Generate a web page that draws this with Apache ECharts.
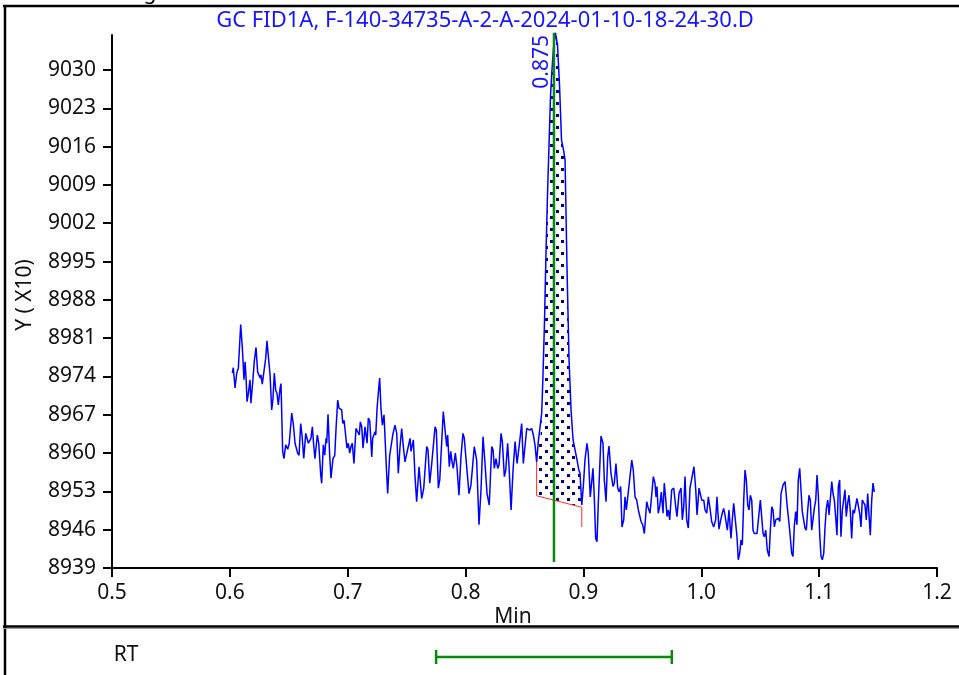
<!DOCTYPE html>
<html>
<head>
<meta charset="utf-8">
<title>GC FID1A</title>
<script src="https://cdn.jsdelivr.net/npm/echarts@6/dist/echarts.min.js"></script>
<style>
  html, body { margin: 0; padding: 0; background: #fff; }
  #chart { width: 959px; height: 675px; }
</style>
</head>
<body>
<div id="chart"></div>
<script>
// FID signal, [retention time (min), response (x10)]
const fidTrace = [
  [0.6021,8974.6],[0.6029,8975.6],[0.6044,8971.9],[0.6058,8974.6],[0.6072,8975.5],[0.6092,8983.5],[0.6106,8979.2],[0.6120,8973.4],[0.6129,8976.7],[0.6137,8974.0],
  [0.6146,8969.4],[0.6157,8970.9],[0.6171,8973.4],[0.6179,8969.1],[0.6194,8973.0],[0.6207,8976.7],[0.6222,8979.3],[0.6236,8974.8],[0.6250,8974.6],[0.6258,8973.7],
  [0.6264,8974.3],[0.6275,8972.6],[0.6290,8972.7],[0.6304,8977.3],[0.6315,8980.5],[0.6326,8980.8],[0.6341,8974.3],[0.6355,8967.9],[0.6366,8970.0],[0.6377,8974.6],
  [0.6389,8971.5],[0.6400,8970.9],[0.6411,8968.8],[0.6426,8971.8],[0.6434,8972.7],[0.6448,8960.3],[0.6459,8959.0],[0.6474,8961.5],[0.6491,8960.7],[0.6504,8961.8],
  [0.6525,8967.3],[0.6538,8965.4],[0.6553,8961.8],[0.6564,8961.5],[0.6575,8960.0],[0.6587,8959.6],[0.6601,8965.4],[0.6612,8963.3],[0.6627,8959.0],[0.6644,8963.6],
  [0.6655,8963.3],[0.6666,8961.8],[0.6680,8961.5],[0.6688,8962.7],[0.6700,8964.8],[0.6711,8961.5],[0.6722,8959.0],[0.6742,8963.3],[0.6754,8961.8],[0.6771,8956.0],
  [0.6779,8954.5],[0.6793,8961.5],[0.6805,8959.6],[0.6816,8962.7],[0.6822,8961.8],[0.6833,8967.1],[0.6847,8959.6],[0.6858,8955.4],[0.6875,8959.0],[0.6890,8959.6],
  [0.6901,8964.5],[0.6915,8969.7],[0.6926,8968.2],[0.6937,8968.5],[0.6949,8967.9],[0.6958,8965.4],[0.6969,8966.0],[0.6980,8965.7],[0.6994,8960.9],[0.7005,8961.8],
  [0.7017,8960.0],[0.7028,8961.2],[0.7039,8961.8],[0.7053,8958.1],[0.7070,8964.5],[0.7085,8964.2],[0.7098,8963.3],[0.7107,8965.7],[0.7119,8964.8],[0.7130,8960.9],
  [0.7147,8964.8],[0.7155,8965.1],[0.7164,8961.8],[0.7175,8966.4],[0.7187,8965.9],[0.7204,8959.3],[0.7212,8962.7],[0.7223,8963.0],[0.7232,8963.9],[0.7238,8963.3],
  [0.7249,8968.2],[0.7263,8971.8],[0.7271,8973.7],[0.7282,8968.2],[0.7294,8965.1],[0.7308,8967.0],[0.7316,8967.3],[0.7331,8956.0],[0.7339,8952.6],[0.7356,8959.6],
  [0.7367,8959.6],[0.7382,8963.3],[0.7401,8965.1],[0.7416,8963.6],[0.7429,8956.3],[0.7444,8961.2],[0.7458,8964.5],[0.7472,8961.2],[0.7486,8958.4],[0.7497,8958.1],
  [0.7514,8961.2],[0.7529,8962.7],[0.7537,8960.3],[0.7557,8962.4],[0.7571,8955.7],[0.7585,8951.1],[0.7605,8957.5],[0.7616,8957.2],[0.7628,8951.7],[0.7645,8953.6],
  [0.7670,8961.2],[0.7681,8960.6],[0.7696,8954.5],[0.7713,8958.1],[0.7741,8964.8],[0.7752,8964.2],[0.7769,8953.6],[0.7781,8955.1],[0.7811,8967.6],[0.7826,8964.2],
  [0.7840,8961.2],[0.7848,8963.3],[0.7862,8957.5],[0.7874,8960.3],[0.7885,8958.4],[0.7896,8957.2],[0.7913,8960.0],[0.7927,8957.5],[0.7944,8952.3],[0.7961,8959.3],
  [0.7978,8963.6],[0.7989,8962.7],[0.8006,8958.4],[0.8029,8952.6],[0.8046,8954.2],[0.8057,8953.9],[0.8074,8961.2],[0.8094,8958.7],[0.8114,8946.9],[0.8131,8953.3],
  [0.8148,8963.0],[0.8165,8958.1],[0.8182,8952.6],[0.8201,8950.5],[0.8222,8961.2],[0.8233,8960.6],[0.8244,8957.2],[0.8258,8959.0],[0.8273,8957.2],[0.8284,8957.8],
  [0.8301,8963.6],[0.8312,8962.1],[0.8329,8955.7],[0.8341,8956.9],[0.8357,8961.8],[0.8369,8957.5],[0.8386,8949.6],[0.8403,8956.9],[0.8420,8962.1],[0.8437,8958.1],
  [0.8448,8957.8],[0.8462,8962.7],[0.8476,8965.4],[0.8490,8958.1],[0.8504,8957.8],[0.8519,8964.5],[0.8544,8964.2],[0.8561,8964.5],[0.8575,8963.3],[0.8589,8961.5],
  [0.8603,8958.4],[0.8617,8962.1],[0.8633,8962.1],[0.8646,8967.3],[0.8657,8974.3],[0.8670,8984.3],[0.8682,8996.2],[0.8695,9007.2],[0.8708,9016.3],[0.8721,9025.4],
  [0.8733,9030.0],[0.8746,9034.0],[0.8763,9036.8],[0.8780,9034.6],[0.8797,9027.3],[0.8814,9017.2],[0.8831,9015.4],[0.8844,9013.6],[0.8861,8993.5],[0.8878,8977.0],
  [0.8895,8967.9],[0.8912,8962.4],[0.8929,8960.6],[0.8946,8958.7],[0.8961,8956.9],[0.8971,8956.3],[0.8986,8950.5],[0.8999,8953.9],[0.9013,8958.7],[0.9030,8961.8],
  [0.9041,8960.0],[0.9058,8952.0],[0.9081,8957.2],[0.9092,8952.0],[0.9104,8944.4],[0.9115,8943.8],[0.9126,8950.8],[0.9149,8963.1],[0.9166,8961.8],[0.9177,8955.1],
  [0.9192,8951.1],[0.9206,8959.3],[0.9217,8961.3],[0.9234,8956.3],[0.9251,8953.9],[0.9262,8954.5],[0.9276,8958.1],[0.9291,8953.6],[0.9304,8952.9],[0.9316,8953.9],
  [0.9327,8946.5],[0.9342,8947.8],[0.9353,8952.0],[0.9364,8949.6],[0.9376,8949.3],[0.9389,8954.5],[0.9410,8958.7],[0.9423,8956.9],[0.9438,8952.0],[0.9452,8951.4],
  [0.9466,8949.6],[0.9489,8947.5],[0.9503,8946.9],[0.9517,8945.3],[0.9537,8951.1],[0.9551,8949.9],[0.9565,8949.0],[0.9579,8952.3],[0.9593,8955.7],[0.9607,8954.5],
  [0.9616,8952.0],[0.9624,8953.9],[0.9635,8949.0],[0.9647,8950.2],[0.9661,8952.9],[0.9675,8949.0],[0.9686,8954.5],[0.9698,8951.7],[0.9709,8948.4],[0.9720,8949.6],
  [0.9732,8947.8],[0.9749,8953.3],[0.9766,8953.6],[0.9783,8950.2],[0.9794,8948.4],[0.9811,8952.6],[0.9828,8953.6],[0.9839,8947.8],[0.9851,8950.2],[0.9862,8955.7],
  [0.9876,8947.8],[0.9890,8946.3],[0.9904,8953.6],[0.9919,8953.9],[0.9938,8957.5],[0.9953,8953.3],[0.9964,8948.7],[0.9981,8953.6],[0.9992,8953.3],[1.0004,8951.4],
  [1.0021,8951.4],[1.0032,8949.6],[1.0046,8949.0],[1.0060,8952.0],[1.0074,8949.9],[1.0088,8947.5],[1.0105,8946.5],[1.0122,8947.8],[1.0133,8952.0],[1.0150,8946.1],
  [1.0165,8947.8],[1.0178,8949.0],[1.0190,8949.9],[1.0201,8948.7],[1.0212,8949.0],[1.0221,8945.9],[1.0235,8949.6],[1.0246,8949.9],[1.0252,8944.4],[1.0263,8947.8],
  [1.0275,8950.8],[1.0286,8950.5],[1.0303,8944.7],[1.0314,8940.5],[1.0326,8941.7],[1.0337,8944.1],[1.0348,8943.2],[1.0360,8951.4],[1.0371,8956.9],[1.0382,8955.1],
  [1.0394,8950.5],[1.0405,8949.6],[1.0416,8952.3],[1.0428,8951.4],[1.0439,8945.9],[1.0450,8945.3],[1.0462,8945.6],[1.0473,8945.3],[1.0484,8945.6],[1.0501,8951.4],
  [1.0513,8951.4],[1.0524,8945.3],[1.0535,8944.7],[1.0547,8945.9],[1.0560,8942.3],[1.0575,8941.1],[1.0586,8945.9],[1.0598,8950.2],[1.0609,8949.6],[1.0620,8946.5],
  [1.0632,8947.8],[1.0643,8947.8],[1.0654,8948.1],[1.0666,8947.5],[1.0677,8952.6],[1.0694,8954.2],[1.0711,8954.8],[1.0728,8950.5],[1.0739,8950.5],[1.0750,8945.9],
  [1.0767,8941.7],[1.0778,8941.1],[1.0789,8946.5],[1.0801,8949.3],[1.0812,8946.9],[1.0823,8955.1],[1.0835,8957.2],[1.0846,8953.3],[1.0857,8949.3],[1.0869,8949.0],
  [1.0880,8946.3],[1.0891,8945.9],[1.0903,8949.6],[1.0914,8952.3],[1.0925,8951.4],[1.0937,8945.9],[1.0948,8945.9],[1.0959,8949.9],[1.0971,8951.4],[1.0982,8956.0],
  [1.0993,8952.3],[1.1005,8945.0],[1.1016,8941.1],[1.1027,8940.5],[1.1039,8941.7],[1.1050,8946.5],[1.1061,8949.9],[1.1073,8951.4],[1.1084,8948.7],[1.1095,8949.0],
  [1.1107,8954.8],[1.1118,8952.6],[1.1129,8951.4],[1.1140,8948.4],[1.1151,8945.0],[1.1163,8953.9],[1.1174,8955.1],[1.1185,8944.7],[1.1197,8949.6],[1.1208,8949.9],
  [1.1219,8953.3],[1.1230,8948.4],[1.1242,8950.8],[1.1253,8952.3],[1.1264,8949.6],[1.1276,8944.4],[1.1287,8949.6],[1.1298,8949.0],[1.1310,8949.0],[1.1321,8951.7],
  [1.1332,8951.7],[1.1344,8949.0],[1.1355,8946.5],[1.1366,8951.4],[1.1378,8951.7],[1.1389,8950.5],[1.1400,8947.8],[1.1412,8952.6],[1.1423,8948.7],[1.1434,8945.0],
  [1.1446,8951.4],[1.1457,8954.5],[1.1468,8952.9]
];

// integrated peak
const retentionTime = 0.875;
const peakBaseline = [[0.8603, 8952.2], [0.8986, 8950.1]];
const baselineTailEnd = 8946.5;
const rtMarkerSpan = [8940.1, 9036.8];
// expected retention window shown under the plot
const rtWindow = [0.775, 0.975];

// axis ticks
const xTicks = [0.5, 0.6, 0.7, 0.8, 0.9, 1.0, 1.1, 1.2];
const yTicks = [8939, 8946, 8953, 8960, 8967, 8974, 8981, 8988, 8995, 9002, 9009, 9016, 9023, 9030];

const FONT = '"Noto Sans", "Open Sans", sans-serif';
const GREEN = '#0a8a0a';

// dotted fill for the integrated area
function makeDotPattern() {
  const c = document.createElement('canvas');
  c.width = 11; c.height = 12;
  const ctx = c.getContext('2d');
  ctx.fillStyle = '#000080';
  ctx.fillRect(0, 0, 3, 3);
  ctx.fillRect(6, 6, 3, 3);
  return c;
}
const dotPattern = { image: makeDotPattern(), repeat: 'repeat' };

const chart = echarts.init(document.getElementById('chart'), null, { renderer: 'canvas' });

const option = {
  animation: false,
  backgroundColor: '#fff',
  grid: [
    { left: 112, right: 22, top: 35, bottom: 107 },
    { left: 112, right: 22, top: 640, height: 34 }
  ],
  xAxis: [
    {
      gridIndex: 0, type: 'value', min: 0.5, max: 1.2, interval: 0.1,
      axisLine: { show: true, onZero: false, lineStyle: { color: '#000', width: 2 } },
      axisTick: { show: true, length: 9, customValues: xTicks, lineStyle: { color: '#000', width: 2 } },
      axisLabel: {
        customValues: xTicks, margin: 15, fontSize: 21, color: '#111', fontFamily: FONT,
        formatter: v => v.toFixed(1)
      },
      splitLine: { show: false }
    },
    { gridIndex: 1, type: 'value', min: 0.5, max: 1.2, show: false }
  ],
  yAxis: [
    {
      gridIndex: 0, type: 'value', min: 8939, max: 9036.4, interval: 7,
      axisLine: { show: true, onZero: false, lineStyle: { color: '#000', width: 2 } },
      axisTick: { show: true, length: 9, customValues: yTicks, lineStyle: { color: '#000', width: 2 } },
      axisLabel: {
        customValues: yTicks, margin: 16, fontSize: 21, color: '#111', fontFamily: FONT,
        formatter: v => String(Math.round(v))
      },
      splitLine: { show: false }
    },
    { gridIndex: 1, type: 'value', min: 0, max: 1, show: false }
  ],
  graphic: [
    { type: 'line', shape: { x1: 3, y1: 6, x2: 959, y2: 6 }, style: { stroke: '#000', lineWidth: 2.5 } },
    { type: 'line', shape: { x1: 5, y1: 5, x2: 5, y2: 675 }, style: { stroke: '#000', lineWidth: 2.5 } },
    { type: 'line', shape: { x1: 3, y1: 626.5, x2: 959, y2: 626.5 }, style: { stroke: '#000', lineWidth: 2.5 } },
    { type: 'line', shape: { x1: 3, y1: 628.5, x2: 959, y2: 628.5 }, style: { stroke: '#9a9a9a', lineWidth: 1 } },
    { type: 'text', x: 150, y: 4, style: { text: 'g', fill: '#000', font: '21px ' + FONT, align: 'center', verticalAlign: 'bottom' } },
    {
      type: 'text', x: 485, y: 21,
      style: { text: 'GC FID1A, F-140-34735-A-2-A-2024-01-10-18-24-30.D', fill: '#1515ff', font: '22px ' + FONT, align: 'center', verticalAlign: 'middle' }
    },
    {
      type: 'text', x: 25, y: 295, rotation: Math.PI / 2,
      style: { text: 'Y ( X10)', fill: '#111', font: '21px ' + FONT, align: 'center', verticalAlign: 'middle' }
    },
    { type: 'text', x: 513, y: 617, style: { text: 'Min', fill: '#111', font: '21px ' + FONT, align: 'center', verticalAlign: 'middle' } },
    { type: 'text', x: 126, y: 655, style: { text: 'RT', fill: '#111', font: '21px ' + FONT, align: 'center', verticalAlign: 'middle' } }
  ],
  series: [
    {
      // dotted integrated area between the peak and its baseline
      type: 'custom', xAxisIndex: 0, yAxisIndex: 0, z: 2, silent: true,
      data: [[retentionTime, peakBaseline[0][1]]],
      renderItem: function (params, api) {
        const pts = fidTrace
          .filter(p => p[0] >= peakBaseline[0][0] && p[0] <= peakBaseline[1][0])
          .map(p => api.coord(p));
        pts.push(api.coord(peakBaseline[1]));
        pts.push(api.coord(peakBaseline[0]));
        return { type: 'polygon', shape: { points: pts }, style: { fill: dotPattern, stroke: null } };
      }
    },
    {
      type: 'line', xAxisIndex: 0, yAxisIndex: 0, z: 3,
      data: fidTrace, showSymbol: false, symbol: 'none', clip: false, silent: true,
      lineStyle: { color: '#0000ff', width: 1.5 }
    },
    {
      // integration baseline with drop lines
      type: 'custom', xAxisIndex: 0, yAxisIndex: 0, z: 4, silent: true,
      data: [[retentionTime, peakBaseline[0][1]]],
      renderItem: function (params, api) {
        const startTrace = fidTrace.find(p => p[0] >= peakBaseline[0][0]);
        const pts = [
          api.coord(startTrace),
          api.coord(peakBaseline[0]),
          api.coord(peakBaseline[1]),
          api.coord([peakBaseline[1][0], baselineTailEnd])
        ];
        return { type: 'polyline', shape: { points: pts }, style: { stroke: '#ff2a2a', lineWidth: 1, fill: null } };
      }
    },
    {
      // retention time marker and its label
      type: 'custom', xAxisIndex: 0, yAxisIndex: 0, z: 5, silent: true,
      data: [[retentionTime, rtMarkerSpan[0]]],
      renderItem: function (params, api) {
        const top = api.coord([retentionTime, rtMarkerSpan[1]]);
        const bottom = api.coord([retentionTime, rtMarkerSpan[0]]);
        return {
          type: 'group',
          children: [
            { type: 'line', shape: { x1: top[0], y1: top[1], x2: bottom[0], y2: bottom[1] }, style: { stroke: GREEN, lineWidth: 2.5 } },
            {
              type: 'text', x: top[0] - 12, y: top[1] + 29, rotation: Math.PI / 2,
              style: { text: retentionTime.toFixed(3), fill: '#1515ff', font: '21px ' + FONT, align: 'center', verticalAlign: 'middle' }
            }
          ]
        };
      }
    },
    {
      // retention window bar
      type: 'custom', xAxisIndex: 1, yAxisIndex: 1, z: 5, silent: true,
      data: [[rtWindow[0], 0.5]],
      renderItem: function (params, api) {
        const a = api.coord([rtWindow[0], 0.5]);
        const b = api.coord([rtWindow[1], 0.5]);
        const st = { stroke: GREEN, lineWidth: 2.5 };
        return {
          type: 'group',
          children: [
            { type: 'line', shape: { x1: a[0], y1: a[1], x2: b[0], y2: b[1] }, style: st },
            { type: 'line', shape: { x1: a[0], y1: a[1] - 7, x2: a[0], y2: a[1] + 7 }, style: st },
            { type: 'line', shape: { x1: b[0], y1: b[1] - 7, x2: b[0], y2: b[1] + 7 }, style: st }
          ]
        };
      }
    }
  ]
};

chart.setOption(option);
</script>
</body>
</html>
